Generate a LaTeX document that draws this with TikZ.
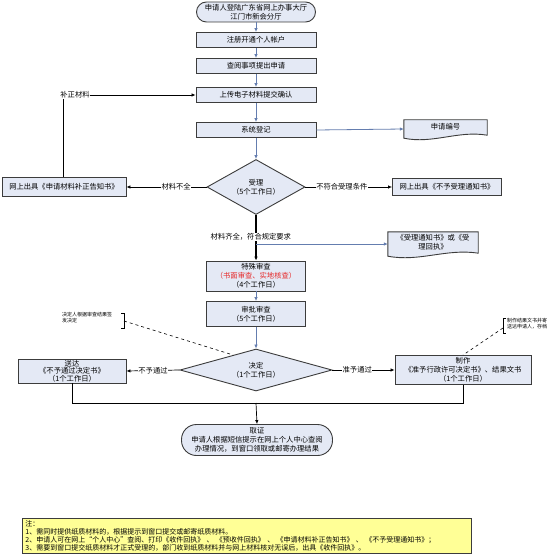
\documentclass[tikz,border=0pt]{standalone}
\usepackage{fontspec}
\setmainfont{Noto Sans CJK SC}
\usetikzlibrary{shapes.geometric,arrows.meta,calc}
\definecolor{boxfill}{RGB}{228,233,245}
\definecolor{boxline}{RGB}{60,60,60}
\definecolor{flowc}{RGB}{100,125,175}
\definecolor{noteyellow}{RGB}{255,255,150}
\definecolor{redtxt}{RGB}{230,40,40}
\tikzset{
  base/.style={font=\fontsize{7.3}{8.8}\selectfont, align=center, inner sep=1pt},
  stepbox/.style={base, draw=boxline, fill=boxfill, line width=0.9pt, rectangle},
  diam/.style={base, draw=boxline, fill=boxfill, line width=0.9pt, diamond, inner sep=0pt},
  docbox/.style={base, rectangle, anchor=center},
  docline/.style={draw=boxline, fill=boxfill, line width=0.9pt},
  flow/.style={draw=flowc, line width=0.8pt, -{Latex[length=4pt,width=3.5pt]}},
  flowline/.style={draw=flowc, line width=0.8pt},
  blk/.style={draw=black, line width=0.7pt, -{Latex[length=4pt,width=3.5pt]}},
  blkline/.style={draw=black, line width=0.7pt},
  lab/.style={base, fill=white, inner sep=0.5pt},
  tiny/.style={font=\fontsize{5}{6}\selectfont, align=left, inner sep=0pt},
  callout/.style={draw=black, line width=0.6pt, dashed},
  notebox/.style={draw=boxline, fill=noteyellow, line width=0.9pt, font=\fontsize{7}{8}\selectfont, align=left, inner sep=2pt}
}
\begin{document}
\begin{tikzpicture}[x=1pt,y=-1pt]
\useasboundingbox (0,0) rectangle (554,556);
\fill[white] (0,0) rectangle (554,556);

% main column
\node[stepbox, rounded corners=10pt, minimum width=119pt, minimum height=20pt] (t1) at (256,12) {申请人登陆广东省网上办事大厅\\江门市新会分厅};
\node[stepbox, minimum width=120pt, minimum height=15pt] (b1) at (256,40) {注册开通个人帐户};
\node[stepbox, minimum width=120pt, minimum height=15pt] (b2) at (256,66) {查阅事项提出申请};
\node[stepbox, minimum width=120pt, minimum height=15pt] (b3) at (256,95) {上传电子材料提交确认};
\node[stepbox, minimum width=120pt, minimum height=15pt] (b4) at (256,130) {系统登记};

% document 申请编号
\node[docbox, minimum width=83pt, minimum height=18pt] (doc1) at (445.5,129) {};
\draw[docline] (doc1.north west) -- (doc1.north east) -- ([yshift=3pt]doc1.south east)
  .. controls ($(doc1.south east)!0.35!(doc1.south west)+(0,8pt)$) and ($(doc1.south east)!0.65!(doc1.south west)+(0,-6pt)$) .. (doc1.south west) -- cycle;
\node[base, anchor=center] (doc1t) at ([yshift=2pt]doc1.center) {申请编号};

\node[diam, shape aspect=1.78, minimum width=98pt, minimum height=55pt] (d1) at (256,187) {受理\\（5个工作日）};
\node[stepbox, minimum width=124pt, minimum height=19pt] (l1) at (64,187) {网上出具《申请材料补正告知书》};
\node[stepbox, minimum width=109pt, minimum height=17pt] (r1) at (447,187) {网上出具《不予受理通知书》};

% document 受理通知书
\node[docbox, minimum width=90pt, minimum height=24pt] (doc2) at (433,244) {};
\draw[docline] (doc2.north west) -- (doc2.north east) -- ([yshift=3pt]doc2.south east)
  .. controls ($(doc2.south east)!0.35!(doc2.south west)+(0,8pt)$) and ($(doc2.south east)!0.65!(doc2.south west)+(0,-6pt)$) .. (doc2.south west) -- cycle;
\node[base, anchor=center] (doc2t) at ([yshift=2pt]doc2.center) {《受理通知书》或《受\\理回执》};

\node[stepbox, minimum width=99pt, minimum height=30pt] (b5) at (256,276) {特殊审查\\\textcolor{redtxt}{（书面审查、实地核查）}\\（4个工作日）};
\node[stepbox, minimum width=99pt, minimum height=25pt] (b6) at (256,314) {审批审查\\（5个工作日）};
\node[diam, shape aspect=3.6, minimum width=152pt, minimum height=42pt] (d2) at (256,370) {决定\\（1个工作日）};
\node[stepbox, minimum width=108pt, minimum height=23pt, font=\fontsize{7.3}{7.6}\selectfont] (l2) at (72,371) {送达\\《不予通过决定书》\\（1个工作日）};
\node[stepbox, minimum width=136pt, minimum height=29pt] (r2) at (463,370) {制作\\《准予行政许可决定书》、结果文书\\（1个工作日）};
\node[stepbox, rounded corners=15pt, minimum width=151pt, minimum height=31pt] (t2) at (257,440) {取证\\申请人根据短信提示在网上个人中心查阅\\办理情况，到窗口领取或邮寄办理结果};

% connectors main flow
\draw[flow] (t1) -- (b1);
\draw[flow] (b1) -- (b2);
\draw[flow] (b2) -- (b3);
\draw[flow] (b3) -- (b4);
\draw[flow] (b4) -- (d1);
\draw[flow] (b4.east) -- (doc1.west);

\draw[blk] (d1.west) -- node[lab, pos=0.38] (lab1) {材料不全} (l1.east);
\draw[blk] (d1.east) -- node[lab, pos=0.42] (lab2) {不符合受理条件} (r1.west);

\coordinate (lup) at (63,95);
\draw[blk] (l1.north -| lup) -- (lup) -- (b3.west);
\node[lab] (lab3) at (75,95) {补正材料};

\draw[blk, line width=1.1pt] (d1.south) -- (b5.north);
\node[lab, anchor=west] (lab4) at (210,237) {材料齐全，符合规定要求};
\coordinate (br) at (256,244);
\draw[flow] (br) -- (br -| doc2.west);

\draw[flow] (b5) -- (b6);
\draw[flow] (b6) -- (d2);
\draw[blk] (d2.west) -- node[lab, pos=0.5] (lab5) {不予通过} (l2.east);
\draw[blk] (d2.east) -- node[lab, pos=0.4] (lab6) {准予通过} (r2.west);

\coordinate (jn) at (256,403);
\draw[blkline] (l2.south) |- (jn);
\draw[blkline] (r2.south) |- (jn);
\draw[blk] (jn) -- (t2.north);

% callouts
\node[tiny, anchor=west] (c1) at (62,318) {决定人根据审查结果签\\发决定};
\draw[line width=0.6pt] (121,313) -- (124,313) -- (124,328) -- (121,328);
\coordinate (c1a) at (124,321);
\draw[callout] (c1a) -- ($(d2.west)!0.7!(d2.north)$);

\node[tiny, anchor=west] (c2) at (507,324) {制作结果文书并寄\\送达申请人，存档};
\draw[line width=0.6pt] (506,318) -- (503,318) -- (503,333) -- (506,333);
\coordinate (c2a) at (503,328);
\draw[callout] (c2a) -- (r2.north);

% note
\node[notebox, anchor=north west, minimum width=449pt, minimum height=35pt, text width=443pt] (note) at (22,518) {注：\\1、需同时提供纸质材料的，根据提示到窗口提交或邮寄纸质材料。\\2、申请人可在网上“个人中心”查阅、打印《收件回执》 、 《预收件回执》 、 《申请材料补正告知书》 、 《不予受理通知书》；\\3、需要到窗口提交纸质材料才正式受理的，部门收到纸质材料并与网上材料核对无误后，出具《收件回执》。};
\end{tikzpicture}
\end{document}
